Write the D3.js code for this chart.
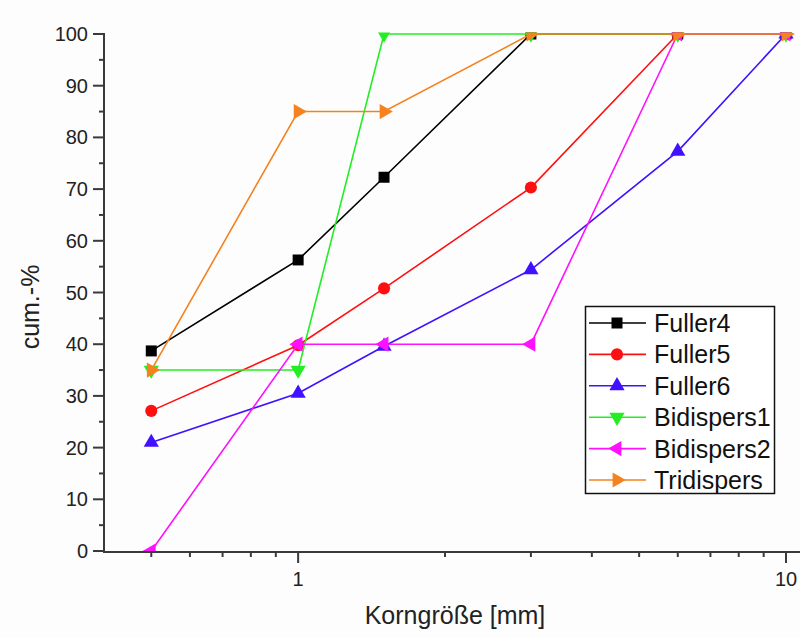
<!DOCTYPE html>
<html>
<head>
<meta charset="utf-8">
<script src="https://cdn.jsdelivr.net/npm/d3@7"></script>
<style>
  html, body { margin: 0; padding: 0; background: #fdfdfd; }
  svg { display: block; font-family: "Liberation Sans", Arial, sans-serif; }
</style>
</head>
<body>
<svg id="chart" width="800" height="637"></svg>
<script>
// Sieve sizes (mm) and cumulative passing (%) per mix
const sizes = [0.5, 1, 1.5, 3, 6, 10];
const fuller4 = [38.7, 56.3, 72.3, 100, 100, 100];
const fuller5 = [27.1, 39.8, 50.8, 70.3, 100, 100];
const fuller6 = [21.0, 30.5, 39.6, 54.4, 77.3, 100];
const bidispers1 = [35, 35, 100, 100, 100, 100];
const bidispers2 = [0, 40, 40, 40, 100, 100];
const tridispers = [35, 85, 85, 100, 100, 100];
const seriesNames = ["Fuller4", "Fuller5", "Fuller6", "Bidispers1", "Bidispers2", "Tridispers"];
const yTicks = [0, 10, 20, 30, 40, 50, 60, 70, 80, 90, 100];
const xTickLabels = [1, 10];

const seriesValues = [fuller4, fuller5, fuller6, bidispers1, bidispers2, tridispers];
const colors = ["#000000", "#ff1010", "#4010ff", "#22ee22", "#ff10ff", "#f5821f"];
const shapes = [
  { type: d3.symbolSquare, size: 121, rot: 0 },
  { type: d3.symbolCircle, size: 115, rot: 0 },
  { type: d3.symbolTriangle, size: 100, rot: 0 },
  { type: d3.symbolTriangle, size: 100, rot: 180 },
  { type: d3.symbolTriangle, size: 100, rot: -90 },
  { type: d3.symbolTriangle, size: 100, rot: 90 }
];

const svg = d3.select("#chart");
const plotLeft = 104, plotRight = 786, plotTop = 34, plotBottom = 551;

const x = d3.scaleLog().domain([0.4, 10]).range([plotLeft, plotRight]);
const y = d3.scaleLinear().domain([0, 100]).range([plotBottom, plotTop]);

// clip for the data marks (plot area)
svg.append("defs").append("clipPath").attr("id", "plotClip")
  .append("rect").attr("x", 0).attr("y", plotTop - 1.5).attr("width", 800).attr("height", plotBottom - plotTop + 2.5);

const plot = svg.append("g").attr("clip-path", "url(#plotClip)");
const line = d3.line().x((d, i) => x(sizes[i])).y(d => y(d));

seriesValues.forEach((vals, k) => {
  const g = plot.append("g");
  g.append("path").datum(vals)
    .attr("d", line)
    .attr("fill", "none")
    .attr("stroke", colors[k])
    .attr("stroke-width", 1.6);
  g.selectAll("path.m").data(vals).join("path")
    .attr("class", "m")
    .attr("d", d3.symbol().type(shapes[k].type).size(shapes[k].size))
    .attr("transform", (d, i) => `translate(${x(sizes[i])},${y(d)}) rotate(${shapes[k].rot})`)
    .attr("fill", colors[k]);
});

// axes
const axisColor = "#3a3a3a";
const yMinor = d3.range(5, 100, 10);
const gy = svg.append("g");
gy.append("line").attr("x1", plotLeft).attr("x2", plotLeft).attr("y1", plotTop - 1).attr("y2", plotBottom + 1)
  .attr("stroke", axisColor).attr("stroke-width", 2);
gy.selectAll("line.maj").data(yTicks).join("line").attr("class", "maj")
  .attr("x1", plotLeft - 11).attr("x2", plotLeft).attr("y1", d => y(d)).attr("y2", d => y(d))
  .attr("stroke", axisColor).attr("stroke-width", 2);
gy.selectAll("line.min").data(yMinor).join("line").attr("class", "min")
  .attr("x1", plotLeft - 5).attr("x2", plotLeft).attr("y1", d => y(d)).attr("y2", d => y(d))
  .attr("stroke", axisColor).attr("stroke-width", 2);
gy.selectAll("text").data(yTicks).join("text")
  .attr("x", plotLeft - 16).attr("y", d => y(d) + 7)
  .attr("text-anchor", "end").attr("font-size", 20).attr("fill", "#222")
  .text(d => d);

const xMinor = [0.5, 0.6, 0.7, 0.8, 0.9, 2, 3, 4, 5, 6, 7, 8, 9];
const gx = svg.append("g");
gx.append("line").attr("x1", plotLeft - 1).attr("x2", plotRight + 14).attr("y1", plotBottom + 1).attr("y2", plotBottom + 1)
  .attr("stroke", axisColor).attr("stroke-width", 2);
gx.selectAll("line.maj").data(xTickLabels).join("line").attr("class", "maj")
  .attr("x1", d => x(d)).attr("x2", d => x(d)).attr("y1", plotBottom + 1).attr("y2", plotBottom + 12)
  .attr("stroke", axisColor).attr("stroke-width", 2);
gx.selectAll("line.min").data(xMinor).join("line").attr("class", "min")
  .attr("x1", d => x(d)).attr("x2", d => x(d)).attr("y1", plotBottom + 1).attr("y2", plotBottom + 6)
  .attr("stroke", axisColor).attr("stroke-width", 2);
gx.selectAll("text").data(xTickLabels).join("text")
  .attr("x", d => x(d)).attr("y", plotBottom + 35)
  .attr("text-anchor", "middle").attr("font-size", 20).attr("fill", "#222")
  .text(d => d);

// axis titles
svg.append("text").attr("x", 455).attr("y", 624)
  .attr("text-anchor", "middle").attr("font-size", 25).attr("fill", "#222")
  .text("Korngröße [mm]");
svg.append("text").attr("transform", "translate(39,307) rotate(-90)")
  .attr("text-anchor", "middle").attr("font-size", 25).attr("fill", "#222")
  .text("cum.-%");

// legend
const lg = svg.append("g");
lg.append("rect").attr("x", 585.5).attr("y", 306.5).attr("width", 189).attr("height", 187)
  .attr("fill", "#fff").attr("stroke", "#111").attr("stroke-width", 1.5);
seriesNames.forEach((name, k) => {
  const cy = 323 + k * 31.4;
  lg.append("line").attr("x1", 589).attr("x2", 646).attr("y1", cy).attr("y2", cy)
    .attr("stroke", colors[k]).attr("stroke-width", 1.6);
  lg.append("path")
    .attr("d", d3.symbol().type(shapes[k].type).size(shapes[k].size)())
    .attr("transform", `translate(617,${cy}) rotate(${shapes[k].rot})`)
    .attr("fill", colors[k]);
  lg.append("text").attr("x", 654).attr("y", cy + 9)
    .attr("font-size", 25).attr("fill", "#111").text(name);
});
</script>
</body>
</html>
